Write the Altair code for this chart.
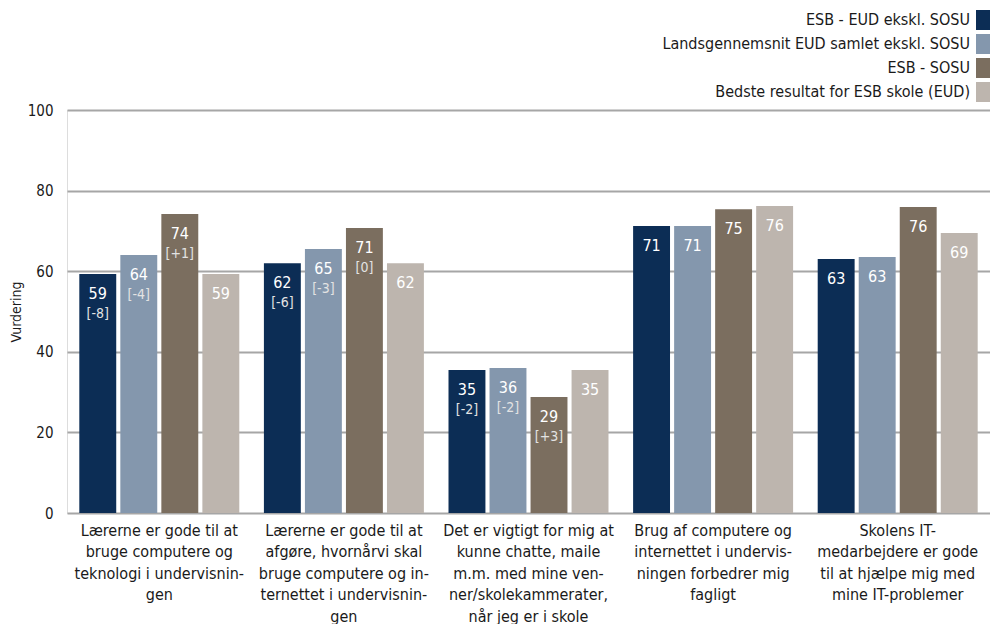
import altair as alt
import pandas as pd

categories = [
    "Lærerne er gode til at|bruge computere og|teknologi i undervisnin-|gen",
    "Lærerne er gode til at|afgøre, hvornårvi skal|bruge computere og in-|ternettet i undervisnin-|gen",
    "Det er vigtigt for mig at|kunne chatte, maile|m.m. med mine ven-|ner/skolekammerater,|når jeg er i skole",
    "Brug af computere og|internettet i undervis-|ningen forbedrer mig|fagligt",
    "Skolens IT-|medarbejdere er gode|til at hjælpe mig med|mine IT-problemer",
]
series = [
    "ESB - EUD ekskl. SOSU",
    "Landsgennemsnit EUD samlet ekskl. SOSU",
    "ESB - SOSU",
    "Bedste resultat for ESB skole (EUD)",
]
colors = ["#0c2d55", "#8497ad", "#7b6e5f", "#bdb5ae"]

values = [
    [59.3, 62.0, 35.5, 71.2, 63.0],
    [64.0, 65.5, 36.0, 71.2, 63.5],
    [74.2, 70.7, 28.8, 75.4, 75.9],
    [59.3, 62.0, 35.5, 76.2, 69.5],
]
labels = [
    ["59", "62", "35", "71", "63"],
    ["64", "65", "36", "71", "63"],
    ["74", "71", "29", "75", "76"],
    ["59", "62", "35", "76", "69"],
]
deltas = [
    ["[-8]", "[-6]", "[-2]", "", ""],
    ["[-4]", "[-3]", "[-2]", "", ""],
    ["[+1]", "[0]", "[+3]", "", ""],
    ["", "", "", "", ""],
]

rows = []
for si, s in enumerate(series):
    for ci, c in enumerate(categories):
        rows.append({"cat": c, "series": s, "value": values[si][ci],
                     "label": labels[si][ci], "delta": deltas[si][ci]})
df = pd.DataFrame(rows)
legend_df = pd.DataFrame({"series": series})

FONT = "Tahoma, 'DejaVu Sans Condensed', 'DejaVu Sans', sans-serif"
TXT = "#1a1a1a"

color_scale = alt.Scale(domain=series, range=colors)

base = alt.Chart(df).encode(
    x=alt.X("cat:N", sort=categories, title=None,
            scale=alt.Scale(paddingInner=0, paddingOuter=0),
            axis=alt.Axis(labelExpr="split(datum.label, '|')", labelAngle=0,
                          labelLimit=300, labelFontSize=16, labelLineHeight=21.5,
                          labelPadding=9, labelColor=TXT,
                          ticks=False, domain=False, labelFont=FONT)),
    xOffset=alt.XOffset("series:N", sort=series,
                        scale=alt.Scale(paddingInner=0.1, paddingOuter=0.3)),
    y=alt.Y("value:Q", scale=alt.Scale(domain=[0, 100]),
            axis=alt.Axis(values=[0, 20, 40, 60, 80, 100], title="Vurdering",
                          grid=True, gridColor="#a6a6a6", gridWidth=2,
                          domain=False, ticks=False, labelPadding=14,
                          labelFontSize=15, labelColor=TXT,
                          titleFontSize=14, titleFontWeight="normal",
                          titleColor=TXT, titlePadding=4,
                          labelFont=FONT, titleFont=FONT)),
)

bars = base.mark_bar().encode(
    color=alt.Color("series:N", sort=series, scale=color_scale, legend=None)
)
nums = base.mark_text(dy=20, baseline="middle", align="center", color="white",
                      fontSize=16, font=FONT).encode(text="label:N")
dlt = base.mark_text(dy=40, baseline="middle", align="center", color="#e3e3e3",
                     fontSize=14, font=FONT).encode(text="delta:N")

main = alt.layer(bars, nums, dlt)

leg_y = alt.Y("series:N", sort=series, axis=None,
              scale=alt.Scale(domain=series, range=[-90, -18], padding=0))
leg_sym = alt.Chart(legend_df).mark_point(
    shape="M-0.7,-1H0.7V1H-0.7Z", size=400, filled=True, opacity=1, strokeWidth=0
).encode(
    y=leg_y, x=alt.value(916),
    color=alt.Color("series:N", sort=series, scale=color_scale, legend=None),
)
leg_txt = alt.Chart(legend_df).mark_text(
    align="right", baseline="middle", fontSize=16, font=FONT, color=TXT
).encode(y=leg_y, x=alt.value(903), text="series:N")

chart = alt.layer(main, leg_sym, leg_txt).resolve_scale(y="independent").properties(
    width=923, height=403,
    padding={"left": 59, "top": 102, "right": 0, "bottom": 111},
    autosize="none",
).configure_view(stroke=None).configure(font=FONT)

chart.save("out.html", embed_options={"renderer": "svg", "actions": False})
